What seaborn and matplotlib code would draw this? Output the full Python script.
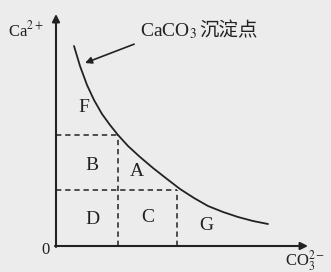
import numpy as np
import pandas as pd
import matplotlib
matplotlib.use("Agg")
import matplotlib.pyplot as plt
import seaborn as sns

# curve points (x = CO3^2-, y = Ca^2+, arbitrary units)
curve_x = [18, 24, 31, 38, 46, 54, 62, 72, 84, 97, 111, 124, 138, 152, 167, 182, 197, 212]
curve_y = [200, 180, 161, 146, 132, 121, 111, 100, 89, 78, 67, 57, 48, 40, 34, 29, 25, 22]

# dashed guide levels
x_levels = [62, 121]
y_levels = [111, 56]

region_labels = ["F", "B", "A", "D", "C", "G"]
region_x = [28, 36, 81, 36, 92, 150]
region_y = [138, 81, 74, 26, 28, 20]

sns.set_style("white")
plt.rcParams["mathtext.fontset"] = "stix"
plt.rcParams["font.family"] = ["Liberation Serif", "Noto Sans CJK SC"]

fig = plt.figure(figsize=(3.31, 2.72), dpi=100)
fig.patch.set_facecolor("#ececec")
ax = fig.add_axes([0, 0, 1, 1])
ax.set_facecolor("#ececec")
ax.set_xlim(-56, 275)
ax.set_ylim(-26, 246)
ax.axis("off")

ink = "#222222"

df = pd.DataFrame({"x": curve_x, "y": curve_y})
sns.lineplot(data=df, x="x", y="y", sort=False, color=ink, lw=1.3, ax=ax)

# dashed lines
dash = dict(color=ink, lw=1.1, ls=(0, (3.5, 2.5)))
ax.plot([0, x_levels[0]], [y_levels[0], y_levels[0]], **dash)
ax.plot([x_levels[0], x_levels[0]], [0, y_levels[0]], **dash)
ax.plot([0, x_levels[1]], [y_levels[1], y_levels[1]], **dash)
ax.plot([x_levels[1], x_levels[1]], [0, y_levels[1]], **dash)

# axes with arrows
arr = dict(arrowstyle="-|>", color=ink, lw=1.5, mutation_scale=11, shrinkA=0, shrinkB=0)
ax.annotate("", xy=(0, 232), xytext=(0, -1), arrowprops=arr)
ax.annotate("", xy=(252, 0), xytext=(-1, 0), arrowprops=arr)

for lab, x, y in zip(region_labels, region_x, region_y):
    ax.text(x, y, lab, fontsize=14, color=ink, ha="center", va="center")

ax.text(-48, 216, "Ca$^{2+}$", fontsize=12, color=ink, ha="left", va="center")
ax.text(-10, -4, "0", fontsize=12, color=ink, ha="center", va="center")
ax.text(229, -15, "CO$_3^{2-}$", fontsize=12, color=ink, ha="left", va="center")

ax.annotate("CaCO$_3$", xy=(29, 183), xytext=(84, 215), fontsize=14, color=ink,
            ha="left", va="center",
            arrowprops=dict(arrowstyle="-|>", color=ink, lw=1.2, mutation_scale=10,
                            shrinkA=2, shrinkB=0))
ax.text(143, 215, "沉淀点", fontsize=14, color=ink, ha="left", va="center",
        family=["Noto Sans CJK SC"])

fig.savefig("out.png", dpi=100, facecolor=fig.get_facecolor())
